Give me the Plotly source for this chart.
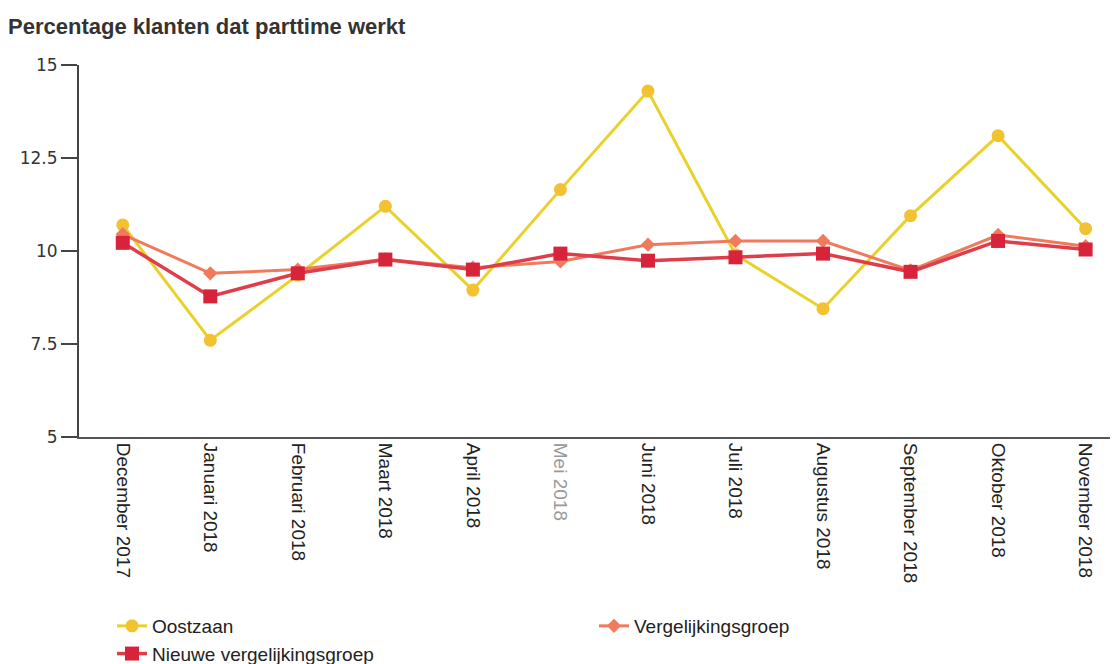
import plotly.graph_objects as go

months = ["December 2017", "Januari 2018", "Februari 2018", "Maart 2018", "April 2018", "Mei 2018",
          "Juni 2018", "Juli 2018", "Augustus 2018", "September 2018", "Oktober 2018", "November 2018"]
oostzaan = [10.7, 7.6, 9.35, 11.2, 8.95, 11.65, 14.3, 9.9, 8.45, 10.95, 13.1, 10.6]
vergelijk = [10.45, 9.4, 9.5, 9.78, 9.55, 9.72, 10.17, 10.27, 10.27, 9.48, 10.43, 10.13]
nieuwe = [10.22, 8.78, 9.4, 9.77, 9.5, 9.93, 9.74, 9.83, 9.93, 9.44, 10.27, 10.04]
ytick_vals = [5, 7.5, 10, 12.5, 15]
ytick_text = ["5", "7.5", "10", "12.5", "15"]

xi = list(range(len(months)))
ticktext = [f"<span style='color:#999999'>{m}</span>" if m.startswith("Mei") else m for m in months]

fig = go.Figure()
fig.add_trace(go.Scatter(x=xi, y=oostzaan, name="Oostzaan", mode="lines+markers",
                         line=dict(color="#E9D12C", width=3),
                         marker=dict(symbol="circle", size=13, color="#F2C233")))
fig.add_trace(go.Scatter(x=xi, y=vergelijk, name="Vergelijkingsgroep", mode="lines+markers",
                         line=dict(color="#F07A5C", width=3),
                         marker=dict(symbol="diamond", size=11, color="#F07A5C")))
fig.add_trace(go.Scatter(x=xi, y=nieuwe, name="Nieuwe vergelijkingsgroep", mode="lines+markers",
                         line=dict(color="#DF3D49", width=3.5),
                         marker=dict(symbol="square", size=14, color="#D7243A")))

W, H = 1110, 656  # page body has an 8px margin in the browser

fig.update_layout(
    width=W, height=H,
    margin=dict(l=71, r=0, t=57, b=227, autoexpand=False),
    paper_bgcolor="white", plot_bgcolor="white",
    title=dict(text="<b>Percentage klanten dat parttime werkt</b>", x=0, xanchor="left",
               pad=dict(l=0), y=1 - 18 / H, yanchor="middle",
               font=dict(family="Liberation Sans, Arial", size=22, color="#333333")),
    xaxis=dict(tickmode="array", tickvals=xi, ticktext=ticktext, tickangle=90,
               range=[-0.5, 11.37], showgrid=False, zeroline=False, automargin=False,
               showline=True, linecolor="#555555", linewidth=2, ticks="",
               tickfont=dict(family="Liberation Sans, Arial", size=19, color="#222222")),
    yaxis=dict(tickmode="array", tickvals=ytick_vals, ticktext=ytick_text, range=[5, 15],
               showgrid=False, zeroline=False, showline=True, linecolor="#444444", linewidth=2,
               ticks="outside", ticklen=16, tickcolor="#444444", tickwidth=1.5, automargin=False,
               ticksuffix="\u00a0",
               tickfont=dict(family="DejaVu Sans", size=17, color="#333333")),
    legend=dict(orientation="h", xref="container", yref="container",
                x=104 / W, xanchor="left", y=1 - 599 / H, yanchor="top",
                entrywidth=437, entrywidthmode="pixels", tracegroupgap=0,
                font=dict(family="Liberation Sans, Arial", size=19, color="#222222")),
    showlegend=True,
)

fig.write_html("out.html")
